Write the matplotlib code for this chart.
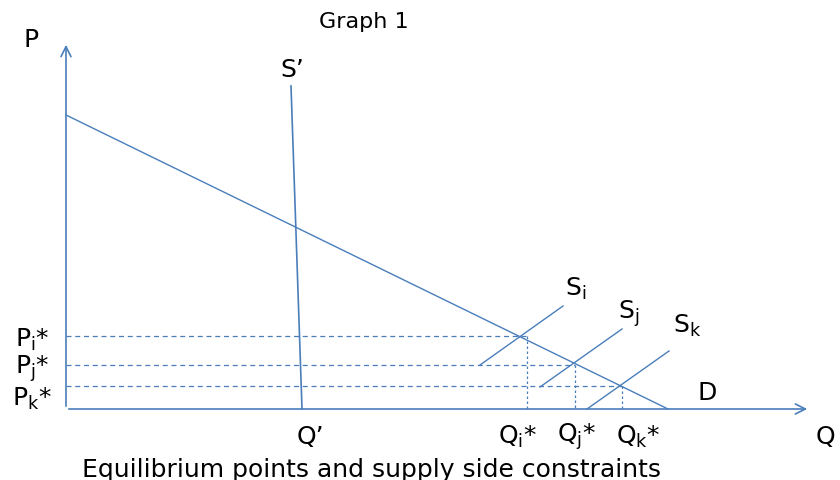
import matplotlib
matplotlib.use('Agg')
import matplotlib.pyplot as plt

plt.rcParams['font.family'] = ['DejaVu Sans']
plt.rcParams['mathtext.fontset'] = 'dejavusans'

blue = '#4a7ebb'

# lines (origin at the axes corner)
demand_x = [0, 602]
demand_y = [294, 0]
s_prime_x = [225, 236]
s_prime_y = [323, 0]
supply_names = ['i', 'j', 'k']
supply_x = [[414, 497], [474, 556], [521, 603]]
supply_y = [[44, 103], [22, 80], [0, 58]]
eq_q = [461, 509, 556]
eq_p = [73, 44, 23]
x_axis_end = 744
y_axis_end = 367

fig = plt.figure(figsize=(8.4, 4.81), dpi=100)
ax = fig.add_axes([0, 0, 1, 1])
ax.set_xlim(-66, 774)
ax.set_ylim(-71, 410)
ax.axis('off')

# axes with open arrow heads
ax.annotate('', xy=(x_axis_end, 0), xytext=(0, 0),
            arrowprops=dict(arrowstyle='->', color=blue, lw=1.2, mutation_scale=18))
ax.annotate('', xy=(0, y_axis_end), xytext=(0, 0),
            arrowprops=dict(arrowstyle='->', color=blue, lw=1.2, mutation_scale=18))

ax.plot(demand_x, demand_y, color=blue, lw=1)
ax.plot(s_prime_x, s_prime_y, color=blue, lw=1.2)
for sx, sy in zip(supply_x, supply_y):
    ax.plot(sx, sy, color=blue, lw=1)

# dashed guides
for q, p in zip(eq_q, eq_p):
    ax.plot([0, q], [p, p], color=blue, lw=0.9, ls=(0, (4, 3)))
    ax.plot([q, q], [p, 0], color=blue, lw=0.9, ls=(0, (2, 2)))

fs = 18
ax.text(-35, 370, 'P', fontsize=fs, ha='center', va='center')
ax.text(298, 388, 'Graph 1', fontsize=16, ha='center', va='center')
ax.text(226, 340, 'S\u2019', fontsize=fs, ha='center', va='center')
ax.text(641, 17, 'D', fontsize=fs, ha='center', va='center')

lab_x = [510, 563, 621]
lab_y = [121, 96, 84]
for n, lx, ly in zip(supply_names, lab_x, lab_y):
    ax.text(lx, ly, r'$\mathregular{S_{%s}}$' % n, fontsize=fs, ha='center', va='center')

p_lab_y = [70, 41, 11]
for n, py in zip(supply_names, p_lab_y):
    ax.text(-34, py, r'$\mathregular{P_{%s}}$*' % n, fontsize=fs, ha='center', va='center')

q_lab_x = [452, 511, 572]
for n, lx in zip(supply_names, q_lab_x):
    ax.text(lx, -27, r'$\mathregular{Q_{%s}}$*' % n, fontsize=fs, ha='center', va='center')
ax.text(244, -27, 'Q\u2019', fontsize=fs, ha='center', va='center')
ax.text(759, -27, 'Q', fontsize=fs, ha='center', va='center')

ax.text(306, -60, 'Equilibrium points and supply side constraints', fontsize=18,
        ha='center', va='center')

fig.savefig('out.png', dpi=100)
